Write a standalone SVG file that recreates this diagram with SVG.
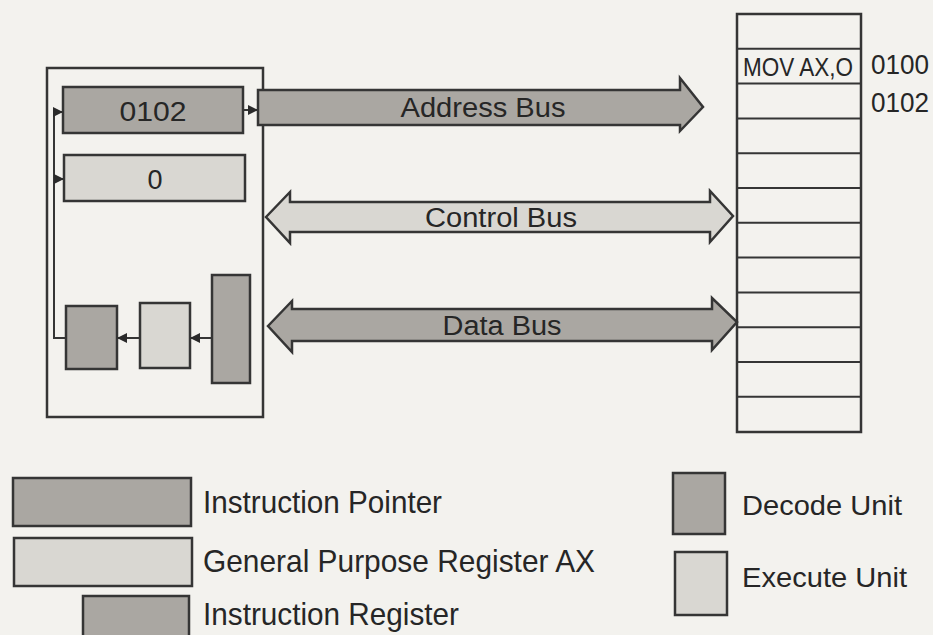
<svg xmlns="http://www.w3.org/2000/svg" width="933" height="635" viewBox="0 0 933 635">
  <defs>
    <style>
      .bg { fill: #f3f2ee; }
      .box { stroke: #353535; stroke-width: 2.5; }
      .dark { fill: #aaa7a2; }
      .light { fill: #d9d7d2; }
      .none { fill: none; }
      .line { stroke: #353535; stroke-width: 2; fill: none; }
      .t { font-family: "Liberation Sans", Arial, sans-serif; fill: #262626; }
    </style>
    <marker id="ah" viewBox="0 0 10 10" refX="10" refY="5" markerWidth="5" markerHeight="5" orient="auto" markerUnits="strokeWidth">
      <path d="M0,0 L10,5 L0,10 z" fill="#2a2a2a"/>
    </marker>
  </defs>
  <rect class="bg" x="0" y="0" width="933" height="635"/>

  <g id="cpu">
    <rect class="box none" x="47" y="68" width="216" height="349"/>
  </g>
  <g id="instruction-pointer">
    <rect class="box dark" x="63" y="87" width="180" height="46"/>
    <text class="t" x="153" y="121" font-size="27" text-anchor="middle" textLength="67" lengthAdjust="spacingAndGlyphs">0102</text>
  </g>
  <g id="register-ax">
    <rect class="box light" x="64" y="155" width="181" height="46"/>
    <text class="t" x="155" y="189" font-size="27" text-anchor="middle">0</text>
  </g>
  <g id="decode-unit">
    <rect class="box dark" x="66" y="306" width="51" height="63"/>
  </g>
  <g id="execute-unit">
    <rect class="box light" x="140" y="303" width="50" height="65"/>
  </g>
  <g id="instruction-register">
    <rect class="box dark" x="212" y="275" width="38" height="108"/>
  </g>

  <g id="memory">
    <rect class="box none" x="737" y="14" width="124" height="418"/>
    <g class="line">
      <line x1="737" y1="48.8" x2="861" y2="48.8"/>
      <line x1="737" y1="83.6" x2="861" y2="83.6"/>
      <line x1="737" y1="118.4" x2="861" y2="118.4"/>
      <line x1="737" y1="153.2" x2="861" y2="153.2"/>
      <line x1="737" y1="188" x2="861" y2="188"/>
      <line x1="737" y1="222.8" x2="861" y2="222.8"/>
      <line x1="737" y1="257.6" x2="861" y2="257.6"/>
      <line x1="737" y1="292.4" x2="861" y2="292.4"/>
      <line x1="737" y1="327.2" x2="861" y2="327.2"/>
      <line x1="737" y1="362" x2="861" y2="362"/>
      <line x1="737" y1="396.8" x2="861" y2="396.8"/>
    </g>
    <text class="t" x="743" y="76" font-size="25" textLength="110" lengthAdjust="spacingAndGlyphs">MOV AX,O</text>
    <text class="t" x="871" y="74" font-size="27" textLength="58" lengthAdjust="spacingAndGlyphs">0100</text>
    <text class="t" x="871" y="112" font-size="27" textLength="58" lengthAdjust="spacingAndGlyphs">0102</text>
  </g>

  <g id="connectors">
    <line class="line" x1="243" y1="110" x2="258" y2="110" marker-end="url(#ah)"/>
    <polyline class="line" points="66,338 54,338 54,112 63,112" marker-end="url(#ah)"/>
    <line class="line" x1="54" y1="179" x2="64" y2="179" marker-end="url(#ah)"/>
    <line class="line" x1="212" y1="338" x2="190" y2="338" marker-end="url(#ah)"/>
    <line class="line" x1="140" y1="338" x2="117" y2="338" marker-end="url(#ah)"/>
  </g>

  <g id="address-bus">
    <polygon class="box dark" points="258,90 680,90 680,78 703,107 680,131 680,125 258,125"/>
    <text class="t" x="483" y="117" font-size="28" text-anchor="middle" textLength="165" lengthAdjust="spacingAndGlyphs">Address Bus</text>
  </g>
  <g id="control-bus">
    <polygon class="box light" points="266,217 290,192 290,202 710,202 710,191 733,216 710,242 710,232 290,232 290,243"/>
    <text class="t" x="501" y="227" font-size="27" text-anchor="middle" textLength="152" lengthAdjust="spacingAndGlyphs">Control Bus</text>
  </g>
  <g id="data-bus">
    <polygon class="box dark" points="268,326 292,301 292,309 712,309 712,298 737,322 712,350 712,341 292,341 292,352"/>
    <text class="t" x="502" y="335" font-size="27" text-anchor="middle" textLength="119" lengthAdjust="spacingAndGlyphs">Data Bus</text>
  </g>

  <g id="legend-ip">
    <rect class="box dark" x="13" y="478" width="178" height="48"/>
    <text class="t" x="203" y="513" font-size="32" textLength="239" lengthAdjust="spacingAndGlyphs">Instruction Pointer</text>
  </g>
  <g id="legend-ax">
    <rect class="box light" x="14" y="538" width="178" height="48"/>
    <text class="t" x="203" y="572" font-size="32" textLength="392" lengthAdjust="spacingAndGlyphs">General Purpose Register AX</text>
  </g>
  <g id="legend-ir">
    <rect class="box dark" x="83" y="596" width="106" height="46"/>
    <text class="t" x="203" y="625" font-size="32" textLength="256" lengthAdjust="spacingAndGlyphs">Instruction Register</text>
  </g>
  <g id="legend-decode">
    <rect class="box dark" x="673" y="473" width="52" height="61"/>
    <text class="t" x="742" y="515" font-size="28" textLength="160" lengthAdjust="spacingAndGlyphs">Decode Unit</text>
  </g>
  <g id="legend-execute">
    <rect class="box light" x="675" y="552" width="52" height="63"/>
    <text class="t" x="742" y="587" font-size="28" textLength="165" lengthAdjust="spacingAndGlyphs">Execute Unit</text>
  </g>
</svg>
